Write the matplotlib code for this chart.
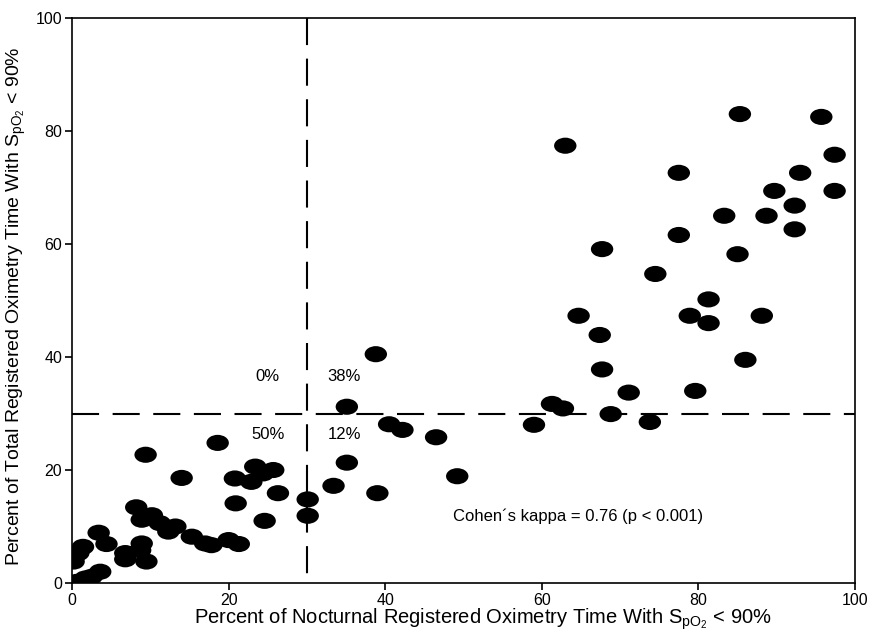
import matplotlib
matplotlib.use("Agg")
import matplotlib.pyplot as plt
from matplotlib.path import Path
from matplotlib.transforms import Affine2D

plt.rcParams["font.family"] = ["Liberation Sans", "DejaVu Sans"]
plt.rcParams["mathtext.fontset"] = "custom"
plt.rcParams["mathtext.rm"] = "Liberation Sans"
plt.rcParams["mathtext.it"] = "Liberation Sans:italic"

# nocturnal % time SpO2<90 (x) vs total registered % time SpO2<90 (y)
noct = [85.3, 95.7, 63.0, 97.4, 77.5, 93.0, 89.7, 97.4, 92.3, 83.3, 88.7, 92.3,
        77.5, 67.7, 85.0, 74.5, 81.3, 64.7, 78.9, 88.1, 81.3, 67.4, 86.0, 67.7,
        71.1, 79.6, 61.3, 62.7, 68.8, 59.0, 73.8,
        38.8, 35.1, 40.5, 42.2, 46.5, 35.1, 33.4, 49.2, 39.0, 30.1, 30.1,
        9.4, 18.6, 14.0, 23.4, 25.7, 20.8, 22.9, 24.4, 26.3, 20.9, 24.6,
        8.2, 8.9, 10.2, 11.2, 13.2, 12.3, 15.3, 17.0, 17.8, 20.0, 21.3,
        3.4, 4.4, 6.8, 6.8, 8.7, 9.5, 8.9, 1.4, 0.8, 0.2, 3.6, 1.7, 0.6, 2.5]
total = [83.0, 82.5, 77.4, 75.8, 72.6, 72.6, 69.4, 69.4, 66.8, 65.0, 65.0, 62.6,
         61.6, 59.1, 58.2, 54.7, 50.2, 47.3, 47.3, 47.3, 46.0, 43.9, 39.5, 37.8,
         33.7, 34.0, 31.7, 30.9, 29.9, 28.0, 28.5,
         40.5, 31.2, 28.1, 27.1, 25.8, 21.3, 17.2, 18.9, 15.9, 14.8, 11.9,
         22.7, 24.8, 18.6, 20.6, 20.0, 18.5, 17.9, 19.4, 15.9, 14.1, 11.0,
         13.4, 11.2, 12.0, 10.6, 10.0, 9.1, 8.2, 7.0, 6.7, 7.6, 6.9,
         8.9, 6.9, 5.3, 4.2, 5.8, 3.8, 7.0, 6.4, 5.3, 3.8, 2.0, 0.8, 0.2, 1.1]

cutoff = 30
quadrant_labels = ["0%", "38%", "50%", "12%"]
kappa_text = "Cohen´s kappa = 0.76 (p < 0.001)"

# flat ellipse marker like the original
ell = Path.unit_circle().transformed(Affine2D().scale(1.0, 0.72))

fig = plt.figure(figsize=(8.71, 6.44), dpi=100)
ax = fig.add_axes([0.0827, 0.0947, 0.8989, 0.8773])

dash = (0, (13, 6.5))
ax.plot([0, 100], [cutoff, cutoff], color="black", lw=1.5, ls=dash, zorder=1)
ax.plot([cutoff, cutoff], [100, 0], color="black", lw=1.5, ls=dash, zorder=1)
ax.scatter(noct, total, marker=ell, s=260, color="black", edgecolors="none", zorder=3)

ax.set_xlim(0, 100)
ax.set_ylim(0, 100)
ax.set_xticks([0, 20, 40, 60, 80, 100])
ax.set_yticks([0, 20, 40, 60, 80, 100])
ax.tick_params(direction="out", length=5, width=1.2, labelsize=11.5, pad=2)
for s in ax.spines.values():
    s.set_linewidth(1.2)

ax.text(25, 36.5, quadrant_labels[0], fontsize=12, ha="center", va="center")
ax.text(34.8, 36.5, quadrant_labels[1], fontsize=12, ha="center", va="center")
ax.text(25, 26.2, quadrant_labels[2], fontsize=12, ha="center", va="center")
ax.text(34.8, 26.2, quadrant_labels[3], fontsize=12, ha="center", va="center")
ax.text(64.6, 11.8, kappa_text, fontsize=12, ha="center", va="center")

ax.set_xlabel(r"Percent of Nocturnal Registered Oximetry Time With S$_{\mathrm{pO}_{2}}$ < 90%",
              fontsize=14.5)
ax.set_ylabel(r"Percent of Total Registered Oximetry Time With S$_{\mathrm{pO}_{2}}$ < 90%",
              fontsize=14)
ax.xaxis.set_label_coords(0.525, -0.041)
ax.yaxis.set_label_coords(-0.056, 0.49)

fig.savefig("out.png", dpi=100)
